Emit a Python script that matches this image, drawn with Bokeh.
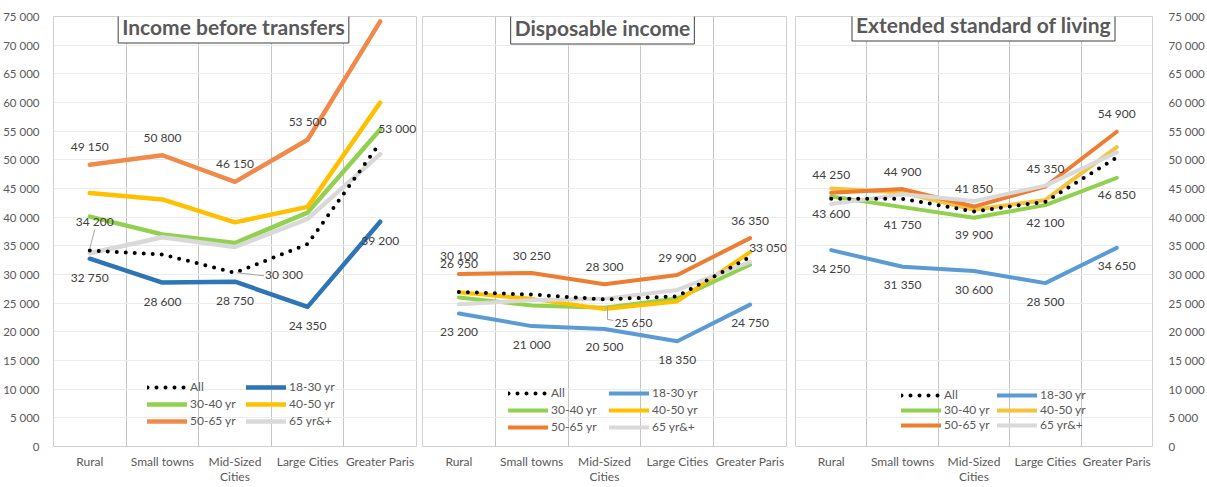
from bokeh.plotting import figure
from bokeh.models import (ColumnDataSource, FixedTicker, Label, Legend, LegendItem,
                          Range1d)
from bokeh.layouts import row
from bokeh.embed import file_html
from bokeh.resources import INLINE
from bokeh.core.properties import value

# ---------------- data ----------------
categories = ["Rural", "Small towns", "Mid-Sized\nCities", "Large Cities", "Greater Paris"]
series_names = ["All", "18-30 yr", "30-40 yr", "40-50 yr", "50-65 yr", "65 yr&+"]

# Income before transfers
ibt_all = [34200, 33500, 30300, 35300, 53000]
ibt_18_30 = [32750, 28600, 28750, 24350, 39200]
ibt_30_40 = [40100, 37000, 35500, 40800, 55300]
ibt_40_50 = [44200, 43100, 39100, 41800, 60000]
ibt_50_65 = [49150, 50800, 46150, 53500, 74150]
ibt_65p = [33700, 36500, 34800, 39700, 51000]

# Disposable income
di_all = [26950, 26500, 25650, 26200, 33050]
di_18_30 = [23200, 21000, 20500, 18350, 24750]
di_30_40 = [26000, 24600, 24200, 25800, 31700]
di_40_50 = [26900, 25750, 24000, 25300, 33900]
di_50_65 = [30100, 30250, 28300, 29900, 36350]
di_65p = [24800, 25500, 25750, 27300, 32200]

# Extended standard of living
esl_all = [43200, 43200, 41000, 42700, 50400]
esl_18_30 = [34250, 31350, 30600, 28500, 34650]
esl_30_40 = [43600, 41750, 39900, 42100, 46850]
esl_40_50 = [45000, 44300, 41300, 43000, 52200]
esl_50_65 = [44250, 44900, 41850, 45350, 54900]
esl_65p = [42300, 44000, 42800, 45500, 51300]

y_ticks = [0, 5000, 10000, 15000, 20000, 25000, 30000, 35000,
           40000, 45000, 50000, 55000, 60000, 65000, 70000, 75000]
y_tick_labels = ["0", "5 000", "10 000", "15 000", "20 000", "25 000", "30 000", "35 000",
                 "40 000", "45 000", "50 000", "55 000", "60 000", "65 000", "70 000", "75 000"]

FONT = "Lato"
TXT = "#404040"
AX = "#595959"
Y_MAX = 75000
FRAME_H = 430


def fmt(v):
    return f"{v:,}".replace(",", " ")


def make_panel(title, series, colors, width, borders, title_xy, legend_loc, legend_colgap,
               legend_spacing, labels, leaders, y_side, line_width):
    left, right = borders
    frame_w = width - left - right
    px_per_cat = frame_w / len(categories)
    val_per_px = Y_MAX / FRAME_H
    p = figure(width=width, height=487, output_backend="svg", toolbar_location=None,
               x_range=Range1d(-0.5, len(categories) - 0.5), y_range=Range1d(0, Y_MAX),
               min_border_left=left, min_border_right=right, min_border_top=16,
               min_border_bottom=41, y_axis_location=y_side if y_side else "left")
    p.background_fill_color = "white"
    p.border_fill_color = "white"
    p.outline_line_color = "#D0D0D0"
    p.outline_line_width = 1

    xs = list(range(len(categories)))

    p.xaxis.ticker = FixedTicker(ticks=xs)
    p.xaxis.major_label_overrides = {i: c for i, c in enumerate(categories)}
    p.xaxis.axis_line_color = None
    p.xaxis.major_tick_line_color = None
    p.xaxis.minor_tick_line_color = None
    p.xaxis.major_label_text_font = FONT
    p.xaxis.major_label_text_font_size = "12px"
    p.xaxis.major_label_text_color = AX
    p.xaxis.major_label_text_line_height = 1.0
    p.xaxis.major_label_standoff = 1

    p.yaxis.ticker = FixedTicker(ticks=y_ticks)
    p.yaxis.major_label_overrides = {t: l for t, l in zip(y_ticks, y_tick_labels)}
    p.yaxis.axis_line_color = None
    p.yaxis.major_tick_line_color = None
    p.yaxis.minor_tick_line_color = None
    p.yaxis.major_label_text_font = FONT
    p.yaxis.major_label_text_font_size = "11.5px"
    p.yaxis.major_label_text_color = AX
    p.yaxis.major_label_standoff = 8 if y_side == "left" else 10
    if not y_side:
        p.yaxis.visible = False

    p.xgrid.ticker = FixedTicker(ticks=[i + 0.5 for i in xs[:-1]])
    p.xgrid.grid_line_color = "#C4C4C4"
    p.ygrid.grid_line_color = "#ECECEC"

    renderers = {}
    order = series_names[1:] + series_names[:1]  # "All" drawn on top
    for name in order:
        vals = series[name]
        if name == "All":
            r = p.line(xs, vals, line_color="black", line_width=4, line_dash="0 9",
                       line_cap="round")
        else:
            r = p.line(xs, vals, line_color=colors[name], line_width=line_width,
                       line_join="round", line_cap="round")
        renderers[name] = r

    # legend: two columns (row-major order of the series)
    for col in range(2):
        names = series_names[col::2]
        items = [LegendItem(label=n, renderers=[renderers[n]]) for n in names]
        legend = Legend(items=items, orientation="vertical",
                        location=(legend_loc[0] + col * legend_colgap, legend_loc[1]),
                        background_fill_alpha=0, border_line_color=None, padding=0, margin=0,
                        glyph_width=40, glyph_height=12, label_height=12,
                        label_standoff=3, spacing=legend_spacing,
                        label_text_font=FONT, label_text_font_size="12px",
                        label_text_color=AX)
        p.add_layout(legend)

    # leader lines for displaced labels (screen offsets from the point)
    for name, idx, pts in leaders:
        v = series[name][idx]
        lxs = [xs[idx] + dx / px_per_cat for dx, dy in pts]
        lys = [v - dy * val_per_px for dx, dy in pts]
        p.line(lxs, lys, line_color="#A6A6A6", line_width=1)

    # data labels
    lx, ly, lt, ldx, ldy = [], [], [], [], []
    for name, idx, dx, dy in labels:
        v = series[name][idx]
        lx.append(xs[idx]); ly.append(v); lt.append(fmt(v)); ldx.append(dx); ldy.append(dy)
    src = ColumnDataSource(dict(x=lx, y=ly, text=lt, dx=ldx, dy=ldy))
    p.text(x="x", y="y", text="text", x_offset="dx", y_offset="dy", source=src,
           text_font=value(FONT), text_font_size="12px", text_color=TXT,
           text_align="center", text_baseline="middle")

    p.add_layout(Label(x=title_xy[0], y=title_xy[1], x_units="screen", y_units="screen",
                       text=title, text_font=FONT, text_font_style="bold",
                       text_font_size="21px", text_color=AX, text_align="center",
                       text_baseline="middle", border_line_color="#404040",
                       border_line_width=1, background_fill_color="white", padding=4))
    return p


def all_idx(name, dy):
    return [(name, i, 0, dy) for i in range(len(categories))]


base = {"All": "black", "30-40 yr": "#92D050", "40-50 yr": "#FFC000",
        "50-65 yr": "#ED7D31", "65 yr&+": "#D9D9D9"}
c1 = dict(base, **{"18-30 yr": "#2E75B6", "50-65 yr": "#F08A4B"})
c2 = dict(base, **{"18-30 yr": "#5B9BD5"})
c3 = dict(base, **{"18-30 yr": "#5B9BD5", "40-50 yr": "#F6C33F"})

s1 = dict(zip(series_names, [ibt_all, ibt_18_30, ibt_30_40, ibt_40_50, ibt_50_65, ibt_65p]))
s2 = dict(zip(series_names, [di_all, di_18_30, di_30_40, di_40_50, di_50_65, di_65p]))
s3 = dict(zip(series_names, [esl_all, esl_18_30, esl_30_40, esl_40_50, esl_50_65, esl_65p]))

lab1 = [("50-65 yr", i, 0, -18) for i in range(4)] + [("50-65 yr", 4, 0, -15)] + \
    all_idx("18-30 yr", 19) + [
    ("All", 0, 5, -29), ("All", 2, 49, 2), ("All", 4, 17, -14)]
lab2 = all_idx("50-65 yr", -18) + all_idx("18-30 yr", 18) + [
    ("All", 0, 0, -28), ("All", 2, 29, 23), ("All", 4, 18, -10)]
lab3 = all_idx("50-65 yr", -18) + all_idx("30-40 yr", 17) + all_idx("18-30 yr", 18)

lead1 = [("All", 0, [(5, -21), (0, -2)]), ("All", 2, [(2, 0), (29, 3)])]
lead2 = [("All", 2, [(3, 7), (3, 20), (9, 21)])]

p1 = make_panel("Income before transfers", s1, c1, 419, (53, 3), (180, 420), (94, 18), 99,
                2, lab1, lead1, "left", 4.5)
p2 = make_panel("Disposable income", s2, c2, 372, (3, 5), (180, 419), (86, 12), 101,
                2, lab2, lead2, None, 4)
p3 = make_panel("Extended standard of living", s3, c3, 416, (4, 48), (188, 422), (106, 14), 96,
                0, lab3, [], "right", 4)

layout = row(p1, p2, p3, spacing=0)
open("out.html", "w").write(file_html(layout, INLINE))
